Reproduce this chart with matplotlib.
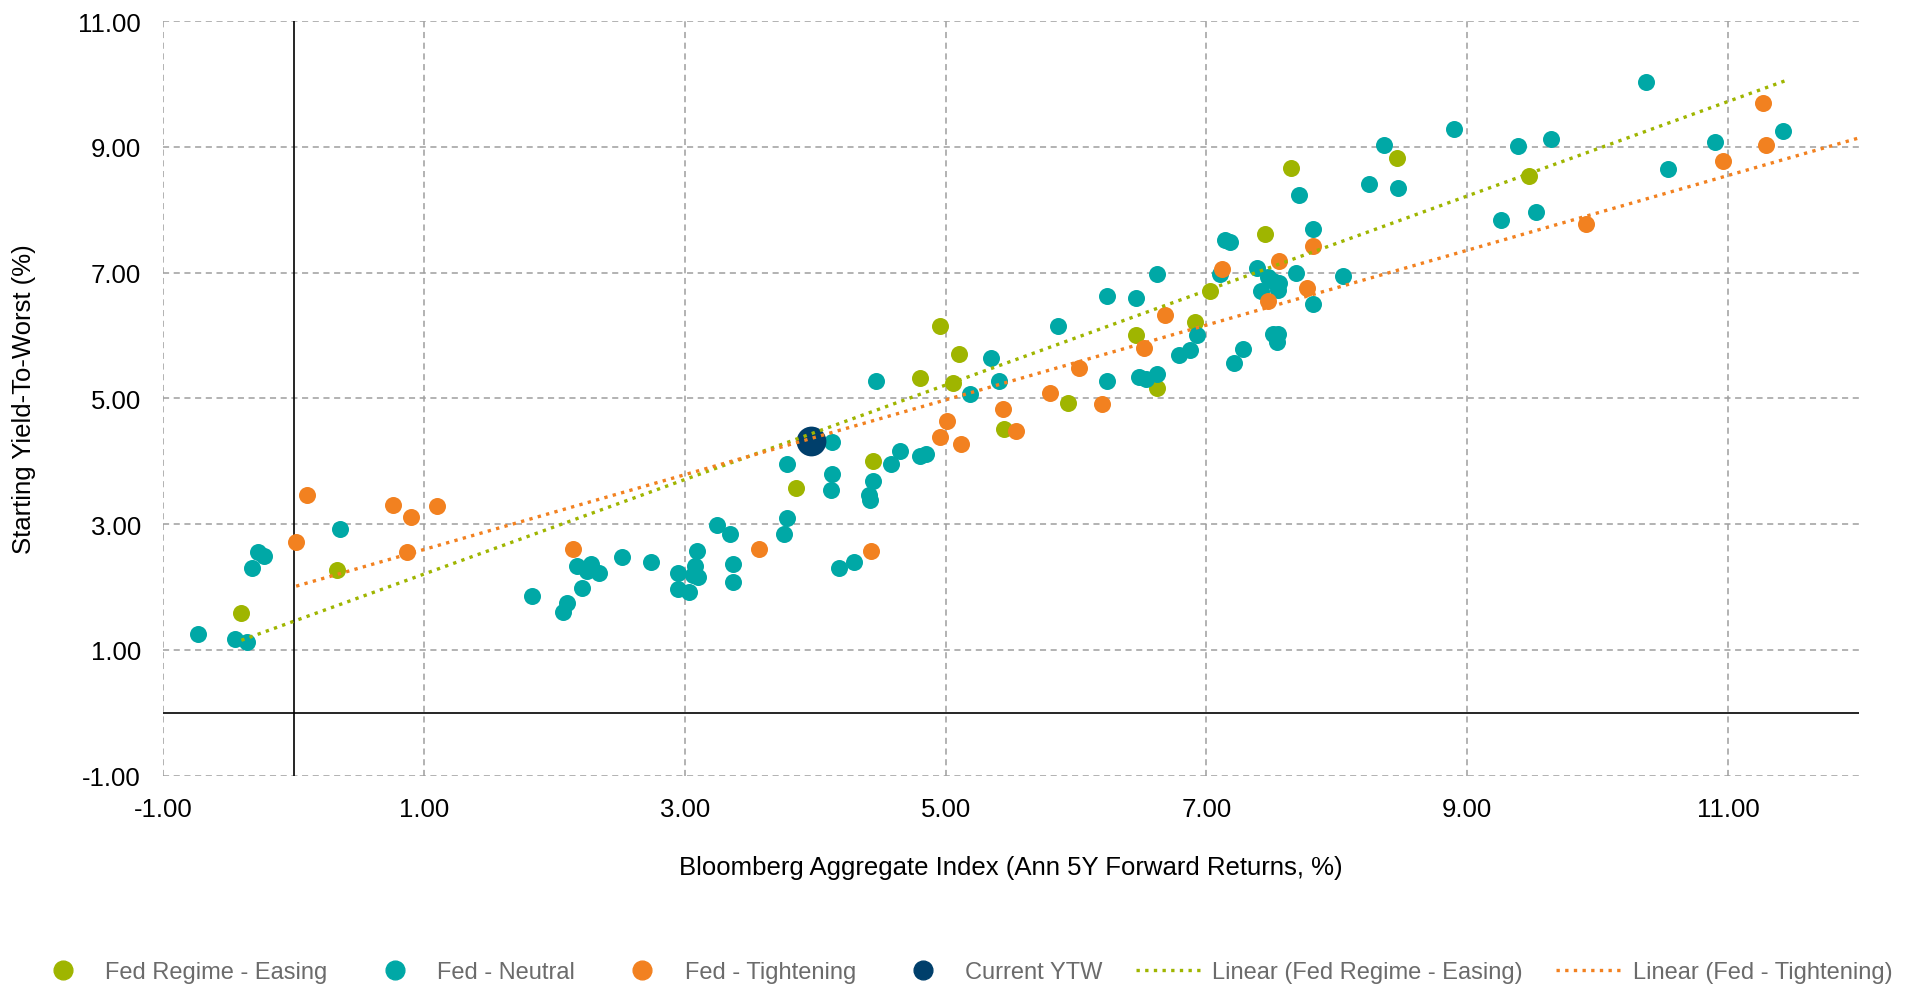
import numpy as np
import matplotlib
matplotlib.use("Agg")
import matplotlib.pyplot as plt
from matplotlib.lines import Line2D

plt.rcParams['font.family'] = ['Liberation Sans', 'DejaVu Sans']

# Fed regime - easing (x: ann 5Y fwd return, y: starting YTW)
easing_x = [-0.40, 0.33, 3.85, 4.44, 4.80, 4.96, 5.06, 5.10, 5.45, 5.94,
            6.46, 6.62, 6.91, 7.03, 7.45, 7.65, 8.46, 9.47]
easing_y = [1.59, 2.27, 3.58, 4.00, 5.33, 6.15, 5.25, 5.70, 4.51, 4.92,
            6.01, 5.16, 6.21, 6.71, 7.61, 8.66, 8.82, 8.53]

# Fed - neutral
neutral_x = [-0.73, -0.45, -0.36, -0.32, -0.27, -0.23, 0.36,
             1.83, 2.07, 2.10, 2.17, 2.21, 2.25, 2.28, 2.34, 2.52, 2.74,
             2.95, 2.95, 3.03, 3.06, 3.08, 3.09, 3.10, 3.25, 3.35, 3.37, 3.37,
             3.76, 3.78, 3.78, 4.12, 4.13, 4.13, 4.18, 4.30, 4.41, 4.42, 4.44,
             4.47, 4.58, 4.65, 4.80, 4.85, 5.19, 5.35, 5.41, 5.86, 6.24, 6.24,
             6.46, 6.48, 6.54, 6.62, 6.62, 6.79, 6.87, 6.93, 7.10, 7.14, 7.18,
             7.21, 7.28, 7.39, 7.42, 7.47, 7.51, 7.55, 7.56, 7.51, 7.54, 7.55,
             7.69, 7.71, 7.82, 7.82, 8.05, 8.25, 8.36, 8.47, 8.90, 9.26, 9.39,
             9.53, 9.64, 10.37, 10.54, 10.90, 11.42]
neutral_y = [1.26, 1.18, 1.12, 2.31, 2.56, 2.49, 2.93,
             1.86, 1.60, 1.75, 2.34, 1.99, 2.26, 2.37, 2.23, 2.48, 2.40,
             2.22, 1.97, 1.92, 2.19, 2.34, 2.57, 2.16, 2.99, 2.85, 2.08, 2.37,
             2.84, 3.09, 3.96, 3.55, 3.80, 4.30, 2.31, 2.40, 3.47, 3.38, 3.68,
             5.27, 3.95, 4.16, 4.08, 4.12, 5.07, 5.64, 5.28, 6.15, 6.62, 5.28,
             6.60, 5.34, 5.31, 5.39, 6.97, 5.69, 5.77, 6.01, 6.97, 7.51, 7.49,
             5.56, 5.78, 7.08, 6.71, 6.93, 6.87, 6.73, 6.83, 6.03, 5.90, 6.03,
             6.99, 8.23, 7.69, 6.50, 6.95, 8.41, 9.03, 8.35, 9.29, 7.84, 9.01,
             7.96, 9.13, 10.03, 8.64, 9.07, 9.25]

# Fed - tightening
tight_x = [0.02, 0.10, 0.76, 0.87, 0.90, 1.10, 2.14, 3.57, 4.43, 4.96,
           5.01, 5.12, 5.44, 5.54, 5.80, 6.02, 6.20, 6.52, 6.68, 7.12,
           7.47, 7.56, 7.77, 7.82, 9.91, 10.96, 11.27, 11.29]
tight_y = [2.72, 3.46, 3.30, 2.56, 3.12, 3.29, 2.61, 2.60, 2.58, 4.39,
           4.64, 4.27, 4.83, 4.48, 5.08, 5.48, 4.91, 5.80, 6.32, 7.06,
           6.54, 7.18, 6.75, 7.42, 7.77, 8.78, 9.69, 9.03]

# current yield-to-worst
current_x = [3.97]
current_y = [4.32]

c_easing = '#9fb500'
c_neutral = '#00a8a6'
c_tight = '#f28120'
c_current = '#003f6b'

fig = plt.figure(figsize=(19.21, 9.87), dpi=100)
ax = fig.add_axes([0.0849, 0.2131, 0.8826, 0.7646])

ax.set_xlim(-1, 12)
ax.set_ylim(-1, 11)
ax.set_xticks(np.arange(-1, 12, 2))
ax.set_yticks(np.arange(-1, 12, 2))
ax.xaxis.set_major_formatter(matplotlib.ticker.FormatStrFormatter('%.2f'))
ax.yaxis.set_major_formatter(matplotlib.ticker.FormatStrFormatter('%.2f'))
ax.grid(True, color='#9e9e9e', linestyle=(0, (4, 3)), linewidth=1.1)
ax.set_axisbelow(True)
for s in ax.spines.values():
    s.set_visible(False)
ax.tick_params(length=0, labelsize=18.5, colors='#000000')
ax.tick_params(axis='y', pad=16)
ax.tick_params(axis='x', pad=15)

ax.axhline(0, color='#000000', linewidth=1.2, zorder=1)
ax.axvline(0, color='#000000', linewidth=1.2, zorder=1)

ms = 150
ax.scatter(easing_x, easing_y, s=ms, color=c_easing, linewidths=0, zorder=3)
ax.scatter(neutral_x, neutral_y, s=ms, color=c_neutral, linewidths=0, zorder=3)
ax.scatter(tight_x, tight_y, s=ms, color=c_tight, linewidths=0, zorder=3)
ax.scatter(current_x, current_y, s=460, color=c_current, linewidths=0, zorder=4)

# linear trendlines, forecast forward 2 units
for xs, ys, col in [(easing_x, easing_y, c_easing), (tight_x, tight_y, c_tight)]:
    k, b = np.polyfit(xs, ys, 1)
    tx = np.array([min(xs), max(xs) + 2])
    ax.plot(tx, k * tx + b, color=col, linestyle=(0, (1, 1.6)), linewidth=2.4, zorder=5)

ax.set_xlabel('Bloomberg Aggregate Index (Ann 5Y Forward Returns, %)', fontsize=18.5, labelpad=25)
ax.set_ylabel('Starting Yield-To-Worst (%)', fontsize=18.5, labelpad=30)

handles = [
    Line2D([], [], marker='o', linestyle='none', markersize=13.5, color=c_easing),
    Line2D([], [], marker='o', linestyle='none', markersize=13.5, color=c_neutral),
    Line2D([], [], marker='o', linestyle='none', markersize=13.5, color=c_tight),
    Line2D([], [], marker='o', linestyle='none', markersize=13.5, color=c_current),
    Line2D([], [], color=c_easing, linestyle=(0, (1, 1.6)), linewidth=2.4),
    Line2D([], [], color=c_tight, linestyle=(0, (1, 1.6)), linewidth=2.4),
]
labels = ['Fed Regime - Easing', 'Fed - Neutral', 'Fed - Tightening', 'Current YTW',
          'Linear (Fed Regime - Easing)', 'Linear (Fed - Tightening)']
fig.legend(handles, labels, loc='center', bbox_to_anchor=(0.5, 0.0142), ncol=6,
           frameon=False, fontsize=17, handlelength=2.9, handletextpad=0.34,
           columnspacing=1.4, labelcolor='#6b6b6b')

fig.savefig('out.png', dpi=100)
